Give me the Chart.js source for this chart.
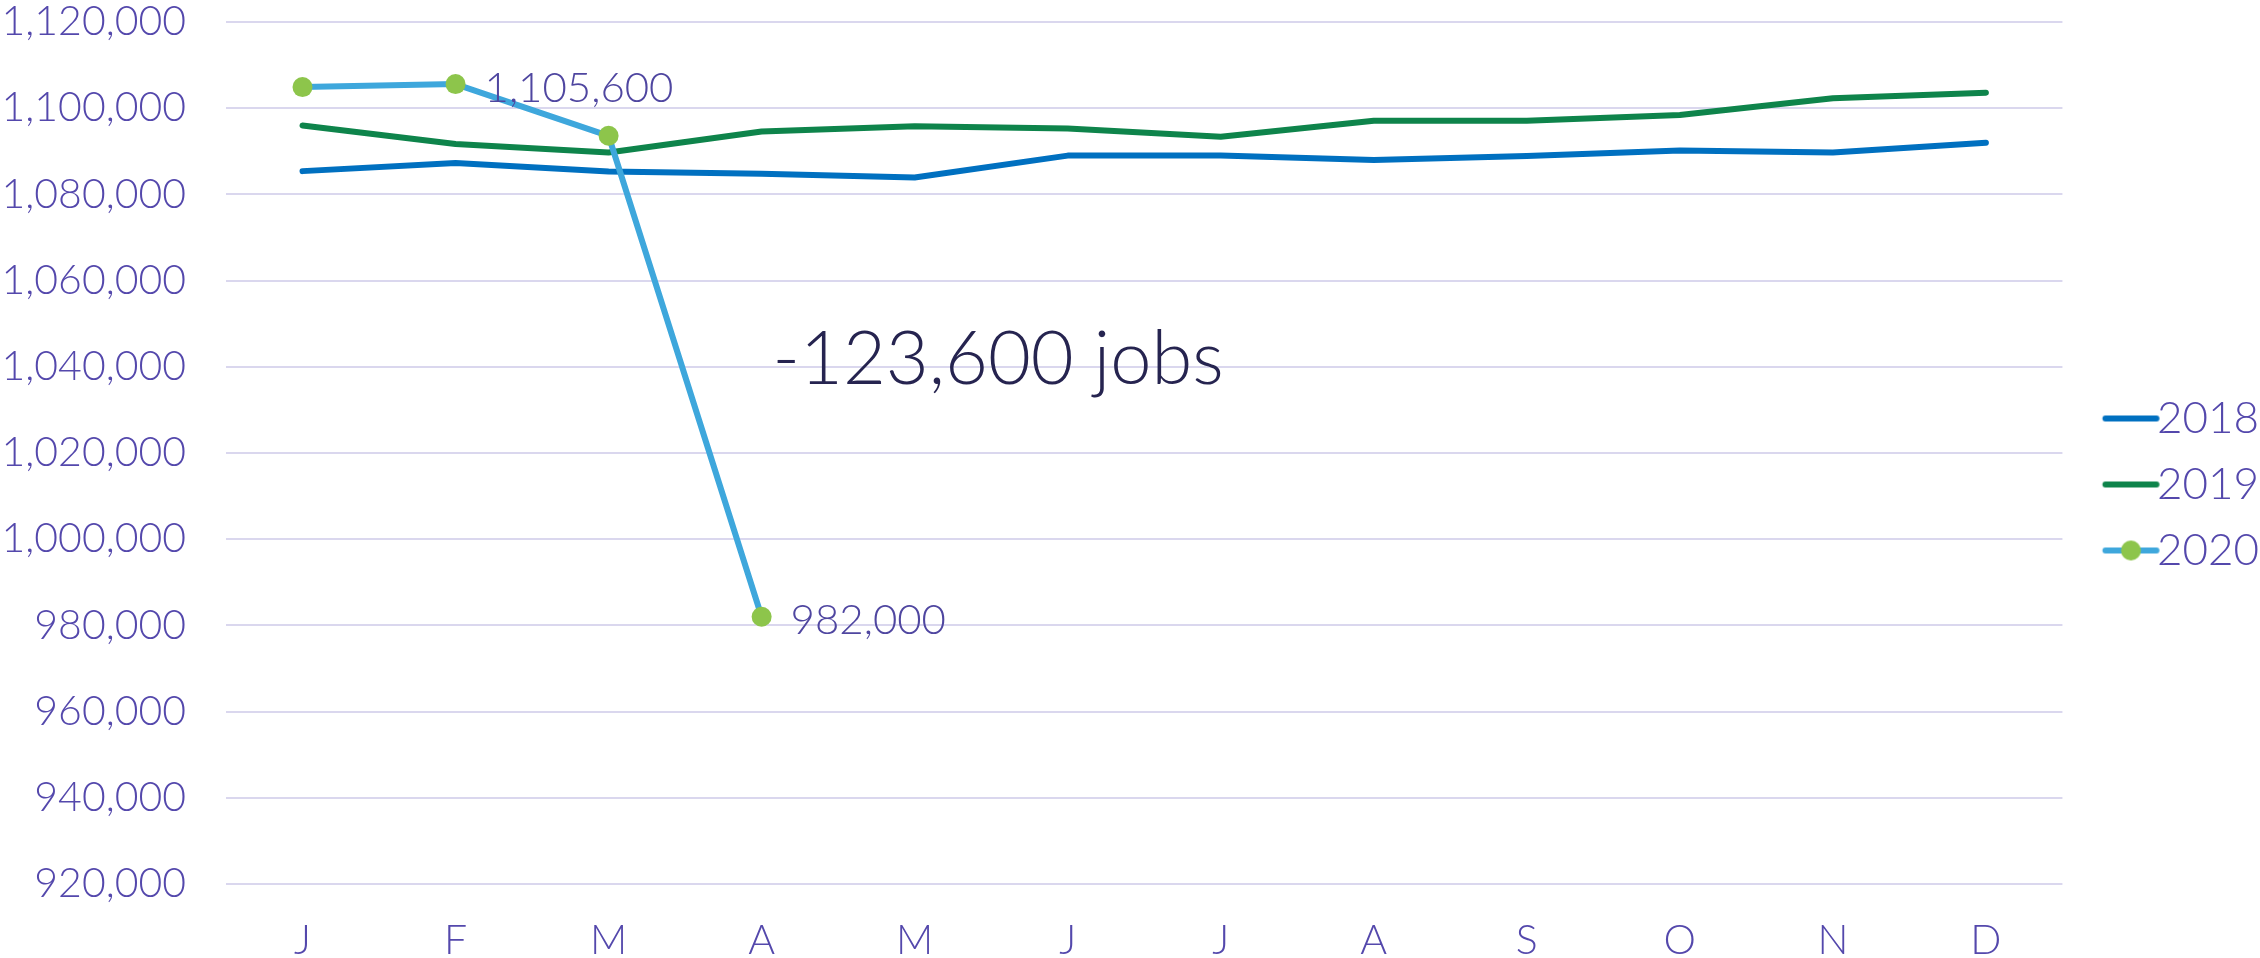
<!DOCTYPE html>
<html>
<head>
<meta charset="utf-8">
<script src="https://cdn.jsdelivr.net/npm/chart.js@4/dist/chart.umd.min.js"></script>
<style>
  html, body { margin: 0; padding: 0; background: #fff; }
  #wrap { width: 2260px; height: 958px; position: relative; }
</style>
</head>
<body>
<div id="wrap"><canvas id="jobs"></canvas></div>
<script>
// values
const months = ["J", "F", "M", "A", "M", "J", "J", "A", "S", "O", "N", "D"];
const jobs2018 = [1085400, 1087300, 1085300, 1084800, 1083900, 1089000, 1089000, 1088000, 1088900, 1090200, 1089700, 1092000];
const jobs2019 = [1096000, 1091700, 1089700, 1094600, 1095800, 1095300, 1093400, 1097100, 1097100, 1098400, 1102300, 1103600];
const jobs2020 = [1104900, 1105600, 1093600, 982000, null, null, null, null, null, null, null, null];
const labelled2020 = [1, 3]; // points that carry a value label
const dropText = "-123,600 jobs";
const dropAt = { index: 3, value: 1036000 };

const FONT = "Lato, 'DejaVu Sans', sans-serif";
const TEXT = "#5448ac";
const GRID = "#dad7ee";
const C2018 = "#0070c0";
const C2019 = "#0e844b";
const C2020 = "#3ea7dc";
const DOT = "#8dc54b";

const fmt = v => Number(v).toLocaleString("en-US");

// legend swatches: a line, with a dot for 2020 (drawn off-centre so the
// line sits close to the label text)
function swatch(color, dot) {
  const c = document.createElement("canvas");
  c.width = 106;
  c.height = 22;
  const g = c.getContext("2d");
  g.strokeStyle = color;
  g.lineWidth = 6;
  g.lineCap = "round";
  g.beginPath();
  g.moveTo(48.75, 11);
  g.lineTo(99.75, 11);
  g.stroke();
  if (dot) {
    g.fillStyle = DOT;
    g.beginPath();
    g.arc(74.25, 11, 10, 0, Math.PI * 2);
    g.fill();
  }
  return c;
}
const swatches = [swatch(C2018, false), swatch(C2019, false), swatch(C2020, true)];

const pointLabels = {
  id: "pointLabels",
  afterDatasetsDraw(chart) {
    const ctx = chart.ctx;
    const meta = chart.getDatasetMeta(2);
    ctx.save();
    ctx.font = "300 42px " + FONT;
    ctx.fillStyle = "#4f46a0";
    ctx.textBaseline = "middle";
    ctx.textAlign = "left";
    labelled2020.forEach(i => {
      const p = meta.data[i];
      ctx.fillText(fmt(jobs2020[i]), p.x + 29, p.y + 4);
    });
    // the drop note
    const x = chart.scales.x.getPixelForValue(dropAt.index) + 11;
    const y = chart.scales.y.getPixelForValue(dropAt.value);
    ctx.font = "300 74px " + FONT;
    ctx.fillStyle = "#262450";
    ctx.textBaseline = "alphabetic";
    ctx.fillText(dropText, x, y);
    ctx.restore();
  }
};

new Chart(document.getElementById("jobs"), {
  type: "line",
  data: {
    labels: months,
    datasets: [
      { label: "2018", data: jobs2018, borderColor: C2018, backgroundColor: C2018, order: 2 },
      { label: "2019", data: jobs2019, borderColor: C2019, backgroundColor: C2019, order: 1 },
      {
        label: "2020", data: jobs2020, borderColor: C2020, backgroundColor: DOT, order: 0,
        pointRadius: 10, pointBackgroundColor: DOT, pointBorderWidth: 0, pointHoverRadius: 10
      }
    ]
  },
  options: {
    responsive: true,
    maintainAspectRatio: false,
    animation: false,
    devicePixelRatio: 1,
    layout: { autoPadding: false, padding: { top: 12, right: -9, bottom: 1, left: 0 } },
    elements: {
      line: { borderWidth: 6, tension: 0, borderCapStyle: "round", borderJoinStyle: "round" },
      point: { radius: 0 }
    },
    scales: {
      x: {
        offset: true,
        grid: { display: false },
        border: { display: false },
        ticks: { color: TEXT, font: { family: FONT, size: 41, weight: 300, lineHeight: 1 }, padding: 28 },
        afterFit: s => { s.height = 73; s.paddingLeft = 0; s.paddingRight = 0; }
      },
      y: {
        min: 920000,
        max: 1120000,
        grid: { color: GRID, lineWidth: 2, drawTicks: false },
        border: { display: false },
        ticks: {
          stepSize: 20000,
          color: TEXT,
          padding: 40,
          font: { family: FONT, size: 41, weight: 300, lineHeight: 1 },
          callback: v => fmt(v)
        },
        afterFit: s => { s.width = 226; s.paddingTop = 22; s.paddingBottom = 0; }
      }
    },
    plugins: {
      tooltip: { enabled: false },
      legend: {
        position: "right",
        labels: {
          color: TEXT,
          font: { family: FONT, size: 44, weight: 300 },
          usePointStyle: true,
          pointStyleWidth: 50.5,
          padding: 22,
          generateLabels: chart => chart.data.datasets.map((ds, i) => ({
            text: ds.label,
            pointStyle: swatches[i],
            fillStyle: ds.borderColor,
            strokeStyle: ds.borderColor,
            lineWidth: 0,
            fontColor: TEXT,
            hidden: false,
            datasetIndex: i
          }))
        }
      }
    }
  },
  plugins: [pointLabels]
});
</script>
</body>
</html>
